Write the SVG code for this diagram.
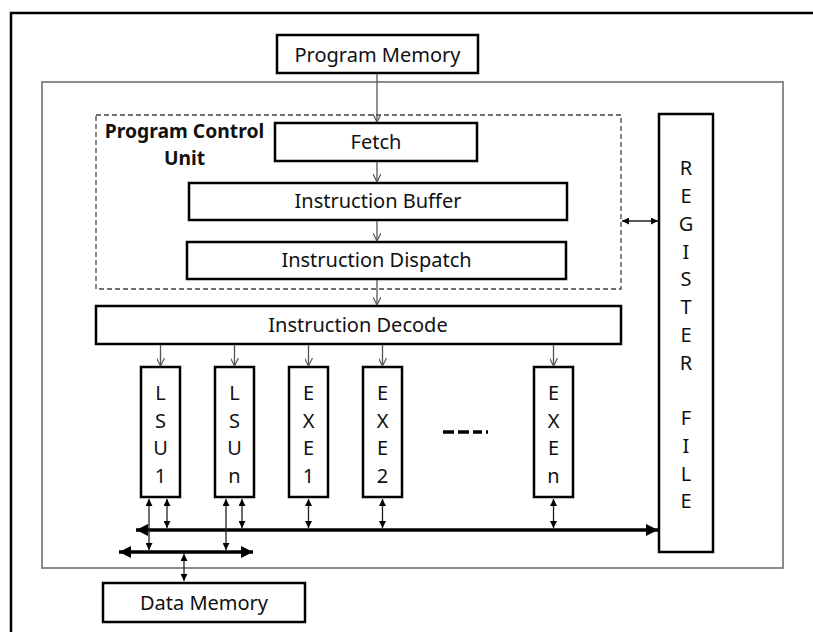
<svg xmlns="http://www.w3.org/2000/svg" width="813" height="632" viewBox="0 0 813 632">
  <defs>
    <style>
      .box { fill: #fff; stroke: #000; stroke-width: 2.5; }
      .lbl { font-family: "Noto Sans", "Open Sans", sans-serif; font-size: 20px; fill: #111; text-anchor: middle; }
      .bold { font-weight: bold; font-size: 19.3px; }
      .flow { stroke: #555; stroke-width: 1.3; fill: none; marker-end: url(#open); }
      .link { stroke: #222; stroke-width: 1.3; fill: none; marker-start: url(#tri); marker-end: url(#tri); }
      .bus { stroke: #000; stroke-width: 3.5; fill: none; marker-start: url(#big); marker-end: url(#big); }
    </style>
    <marker id="open" viewBox="0 0 10 10" refX="10" refY="5" markerWidth="8" markerHeight="8" markerUnits="userSpaceOnUse" orient="auto">
      <path d="M0,0 L10,5 L0,10" fill="none" stroke="#555" stroke-width="1.5"/>
    </marker>
    <marker id="tri" viewBox="0 0 10 10" refX="10" refY="5" markerWidth="7" markerHeight="7" markerUnits="userSpaceOnUse" orient="auto-start-reverse">
      <path d="M0,0 L10,5 L0,10 Z" fill="#000"/>
    </marker>
    <marker id="big" viewBox="0 0 10 10" refX="10" refY="5" markerWidth="13" markerHeight="12" markerUnits="userSpaceOnUse" orient="auto-start-reverse">
      <path d="M0,0 L10,5 L0,10 Z" fill="#000"/>
    </marker>
  </defs>

  <rect width="813" height="632" fill="#fff"/>

  <!-- outer page frame -->
  <rect x="11" y="13" width="830" height="640" fill="none" stroke="#000" stroke-width="2.5"/>
  <!-- processor boundary -->
  <rect x="42" y="82" width="741" height="486" fill="none" stroke="#707070" stroke-width="1.6"/>

  <g id="program-memory">
    <rect class="box" x="277" y="35" width="201" height="38"/>
    <text class="lbl" x="377.5" y="62">Program Memory</text>
  </g>

  <g id="program-control-unit">
    <rect x="96" y="115" width="525" height="174" fill="none" stroke="#444" stroke-width="1.3" stroke-dasharray="5 3"/>
    <text class="lbl bold" x="184.5" y="138">Program Control</text>
    <text class="lbl bold" x="184.5" y="165">Unit</text>
  </g>

  <g id="fetch">
    <rect class="box" x="275" y="123" width="202" height="38"/>
    <text class="lbl" x="376" y="149">Fetch</text>
  </g>

  <g id="instruction-buffer">
    <rect class="box" x="189" y="183" width="378" height="37"/>
    <text class="lbl" x="378" y="208">Instruction Buffer</text>
  </g>

  <g id="instruction-dispatch">
    <rect class="box" x="187" y="242" width="379" height="37"/>
    <text class="lbl" x="376.5" y="267">Instruction Dispatch</text>
  </g>

  <g id="instruction-decode">
    <rect class="box" x="96" y="306" width="525" height="38"/>
    <text class="lbl" x="358" y="332">Instruction Decode</text>
  </g>

  <g id="lsu1">
    <rect class="box" x="141" y="367" width="39" height="130"/>
    <text class="lbl" x="160.5" y="400">L</text>
    <text class="lbl" x="160.5" y="427.5">S</text>
    <text class="lbl" x="160.5" y="455">U</text>
    <text class="lbl" x="160.5" y="482.5">1</text>
  </g>

  <g id="lsun">
    <rect class="box" x="215" y="367" width="39" height="130"/>
    <text class="lbl" x="234.5" y="400">L</text>
    <text class="lbl" x="234.5" y="427.5">S</text>
    <text class="lbl" x="234.5" y="455">U</text>
    <text class="lbl" x="234.5" y="482.5">n</text>
  </g>

  <g id="exe1">
    <rect class="box" x="289" y="367" width="39" height="130"/>
    <text class="lbl" x="308.5" y="400">E</text>
    <text class="lbl" x="308.5" y="427.5">X</text>
    <text class="lbl" x="308.5" y="455">E</text>
    <text class="lbl" x="308.5" y="482.5">1</text>
  </g>

  <g id="exe2">
    <rect class="box" x="363" y="367" width="39" height="130"/>
    <text class="lbl" x="382.5" y="400">E</text>
    <text class="lbl" x="382.5" y="427.5">X</text>
    <text class="lbl" x="382.5" y="455">E</text>
    <text class="lbl" x="382.5" y="482.5">2</text>
  </g>

  <g id="ellipsis">
    <path d="M443,432 H489" stroke="#000" stroke-width="3.5" stroke-dasharray="11 4 11 4 9 4 2 20"/>
  </g>

  <g id="exen">
    <rect class="box" x="534" y="367" width="39" height="130"/>
    <text class="lbl" x="553.5" y="400">E</text>
    <text class="lbl" x="553.5" y="427.5">X</text>
    <text class="lbl" x="553.5" y="455">E</text>
    <text class="lbl" x="553.5" y="482.5">n</text>
  </g>

  <g id="register-file">
    <rect class="box" x="659" y="114" width="54" height="438"/>
    <text class="lbl" x="686" y="175">R</text>
    <text class="lbl" x="686" y="203">E</text>
    <text class="lbl" x="686" y="230.5">G</text>
    <text class="lbl" x="686" y="258.5">I</text>
    <text class="lbl" x="686" y="286">S</text>
    <text class="lbl" x="686" y="314">T</text>
    <text class="lbl" x="686" y="341.5">E</text>
    <text class="lbl" x="686" y="369.5">R</text>
    <text class="lbl" x="686" y="425">F</text>
    <text class="lbl" x="686" y="452.5">I</text>
    <text class="lbl" x="686" y="480.5">L</text>
    <text class="lbl" x="686" y="508">E</text>
  </g>

  <g id="data-memory">
    <rect class="box" x="103" y="583" width="202" height="39"/>
    <text class="lbl" x="204" y="610">Data Memory</text>
  </g>

  <g id="connectors">
    <!-- instruction flow -->
    <line class="flow" x1="377" y1="74" x2="377" y2="122"/>
    <line class="flow" x1="377" y1="162" x2="377" y2="182"/>
    <line class="flow" x1="377" y1="221" x2="377" y2="241"/>
    <line class="flow" x1="377" y1="280" x2="377" y2="305"/>
    <line class="flow" x1="160.5" y1="345" x2="160.5" y2="366"/>
    <line class="flow" x1="234.5" y1="345" x2="234.5" y2="366"/>
    <line class="flow" x1="308.5" y1="345" x2="308.5" y2="366"/>
    <line class="flow" x1="382.5" y1="345" x2="382.5" y2="366"/>
    <line class="flow" x1="553.5" y1="345" x2="553.5" y2="366"/>

    <!-- control unit to register file -->
    <line class="link" x1="622" y1="221" x2="658" y2="221"/>

    <!-- buses -->
    <line class="bus" x1="136" y1="530" x2="658" y2="530"/>
    <line class="bus" x1="119" y1="552" x2="253" y2="552"/>

    <!-- unit ports -->
    <line class="link" x1="149" y1="499" x2="149" y2="550"/>
    <line class="link" x1="167" y1="499" x2="167" y2="528"/>
    <line class="link" x1="226" y1="499" x2="226" y2="550"/>
    <line class="link" x1="242" y1="499" x2="242" y2="528"/>
    <line class="link" x1="308.5" y1="499" x2="308.5" y2="528"/>
    <line class="link" x1="382.5" y1="499" x2="382.5" y2="528"/>
    <line class="link" x1="553.5" y1="499" x2="553.5" y2="528"/>

    <!-- data memory port -->
    <line class="link" x1="184" y1="554" x2="184" y2="581"/>
  </g>
</svg>
